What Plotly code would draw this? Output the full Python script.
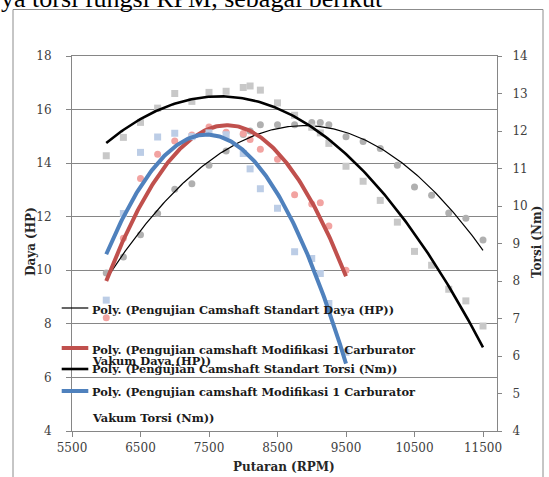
import numpy as np
import plotly.graph_objects as go

# ---------------- data ----------------
rpm_std = [6000, 6250, 6500, 6750, 7000, 7250, 7500, 7750, 8000, 8100, 8250, 8500,
           8750, 9000, 9125, 9250, 9500, 9750, 10000, 10250, 10500, 10750, 11000,
           11250, 11500]
std_daya = [9.9, 10.5, 11.33, 12.12, 13.03, 13.23, 13.92, 14.45, 15.07, 15.2, 15.43,
            15.43, 15.43, 15.52, 15.52, 15.43, 14.99, 14.81, 14.55, 13.92, 13.11,
            12.80, 12.14, 11.94, 11.13]
std_torsi = [11.34, 11.83, 12.23, 12.61, 13.00, 12.79, 13.03, 13.06, 13.16, 13.20,
             13.09, 12.75, 12.42, 12.10, 11.95, 11.67, 11.06, 10.66, 10.15, 9.57,
             8.79, 8.42, 7.78, 7.47, 6.80]

rpm_mod = [6000, 6250, 6500, 6750, 7000, 7250, 7500, 7750, 8000, 8100, 8250, 8500,
           8750, 9000, 9125, 9250, 9500]
mod_daya = [8.23, 11.2, 13.43, 14.33, 14.83, 15.05, 15.35, 15.15, 15.11, 14.88, 14.52,
            14.15, 12.82, 12.47, 12.52, 11.65, 10.0]
mod_torsi = [7.49, 9.8, 11.43, 11.84, 11.94, 11.85, 11.95, 11.9, 11.4, 10.99, 10.46,
             9.94, 8.78, 8.6, 8.20, 7.4, 6.1]

x_ticks = [5500, 6500, 7500, 8500, 9500, 10500, 11500]

legend_labels = [
    ["Poly. (Pengujian Camshaft Standart Daya (HP))"],
    ["Poly. (Pengujian camshaft Modifikasi 1 Carburator", "Vakum Daya (HP))"],
    ["Poly. (Pengujian Camshaft Standart Torsi (Nm))"],
    ["Poly. (Pengujian camshaft Modifikasi 1 Carburator", "Vakum Torsi (Nm))"],
]

# ---------------- geometry helpers ----------------
W, H = 549, 477
L, R, T, B = 72, 52, 56, 46
PW, PH = W - L - R, H - T - B


def px(x):
    return (x - L) / PW


def py(y):
    return (H - B - y) / PH


def trend(xs, ys, deg=2):
    c = np.polyfit(xs, ys, deg)
    xx = np.linspace(min(xs), max(xs), 200)
    return xx, np.polyval(c, xx)


fig = go.Figure()

# markers
fig.add_trace(go.Scatter(x=rpm_std, y=std_daya, mode="markers", yaxis="y",
                         marker=dict(symbol="circle", size=7, color="#b0b0b0")))
fig.add_trace(go.Scatter(x=rpm_mod, y=mod_daya, mode="markers", yaxis="y",
                         marker=dict(symbol="circle", size=7, color="#f2a3a1")))
fig.add_trace(go.Scatter(x=rpm_std, y=std_torsi, mode="markers", yaxis="y2",
                         marker=dict(symbol="square", size=7, color="#c8c8c8")))
fig.add_trace(go.Scatter(x=rpm_mod, y=mod_torsi, mode="markers", yaxis="y2",
                         marker=dict(symbol="square", size=7, color="#bccde6")))

# polynomial trendlines
xx, yy = trend(rpm_std, std_daya)
fig.add_trace(go.Scatter(x=xx, y=yy, mode="lines", yaxis="y",
                         line=dict(color="black", width=1.2)))
xx, yy = trend(rpm_mod, mod_daya)
fig.add_trace(go.Scatter(x=xx, y=yy, mode="lines", yaxis="y",
                         line=dict(color="#c0504d", width=4)))
xx, yy = trend(rpm_std, std_torsi)
fig.add_trace(go.Scatter(x=xx, y=yy, mode="lines", yaxis="y2",
                         line=dict(color="black", width=2.6)))
xx, yy = trend(rpm_mod, mod_torsi)
fig.add_trace(go.Scatter(x=xx, y=yy, mode="lines", yaxis="y2",
                         line=dict(color="#4f81bd", width=4)))

axcol = "#868686"
tickfont = dict(family="DejaVu Serif", size=12, color="#404040")

fig.update_layout(
    width=W, height=H,
    margin=dict(l=L, r=R, t=T, b=B),
    paper_bgcolor="white", plot_bgcolor="white",
    showlegend=False,
    xaxis=dict(range=[5500, 5500 + PW / 0.0685], tickvals=x_ticks, tickformat="d",
               ticks="outside", ticklen=5, tickcolor=axcol, showline=True,
               linecolor=axcol, mirror=True, showgrid=False, zeroline=False,
               tickfont=tickfont, ticklabelstandoff=1),
    yaxis=dict(range=[4, 18], dtick=2, ticks="outside", ticklen=5, tickcolor=axcol,
               showline=True, linecolor=axcol, gridcolor=axcol, gridwidth=1,
               zeroline=False, tickfont=tickfont, ticklabelstandoff=12),
    yaxis2=dict(range=[4, 14], dtick=1, overlaying="y", side="right",
                ticks="outside", ticklen=4, tickcolor=axcol, showline=True,
                linecolor=axcol, showgrid=False, zeroline=False,
                tickfont=tickfont, ticklabelstandoff=8),
)

shapes = []
annotations = []

# outer chart border
shapes.append(dict(type="rect", xref="paper", yref="paper",
                   x0=px(13), x1=px(543), y0=py(495), y1=py(9.5),
                   line=dict(color="#8c8c8c", width=1), layer="below"))

# cut-off document text above the chart
annotations.append(dict(text="ya torsi fungsi RPM, sebagai berikut", xref="paper",
                        yref="paper", x=px(-1), y=py(15), xanchor="left",
                        yanchor="bottom", showarrow=False,
                        font=dict(family="Liberation Serif", size=26, color="black")))

# axis titles
tfont = dict(family="DejaVu Serif", size=12, color="#262626")
annotations.append(dict(text="<b>Daya (HP)</b>", xref="paper", yref="paper",
                        x=px(31), y=py(242), textangle=-90, showarrow=False,
                        xanchor="center", yanchor="middle", font=tfont))
annotations.append(dict(text="<b>Torsi (Nm)</b>", xref="paper", yref="paper",
                        x=px(537), y=py(242), textangle=-90, showarrow=False,
                        xanchor="center", yanchor="middle", font=tfont))
annotations.append(dict(text="<b>Putaran (RPM)</b>", xref="paper", yref="paper",
                        x=px(284), y=py(467), showarrow=False,
                        xanchor="center", yanchor="middle", font=tfont))

# manual legend
leg_styles = [("black", 1.2), ("#c0504d", 4), ("black", 2.6), ("#4f81bd", 4)]
leg_line_y = [308, 348, 369, 391]
leg_text_y = [[310], [349.5, 360.5], [369], [392, 418]]
lfont = dict(family="DejaVu Serif", size=11.4, color="#1a1a1a")
for (col, wd), ly, tys, labels in zip(leg_styles, leg_line_y, leg_text_y, legend_labels):
    shapes.append(dict(type="line", xref="paper", yref="paper",
                       x0=px(61.7), x1=px(88.3), y0=py(ly), y1=py(ly),
                       line=dict(color=col, width=wd)))
    for ty, lab in zip(tys, labels):
        annotations.append(dict(text="<b>" + lab + "</b>", xref="paper", yref="paper",
                                x=px(90), y=py(ty), xanchor="left", yanchor="middle",
                                showarrow=False, font=lfont))

fig.update_layout(shapes=shapes, annotations=annotations)
fig.write_html("out.html")
